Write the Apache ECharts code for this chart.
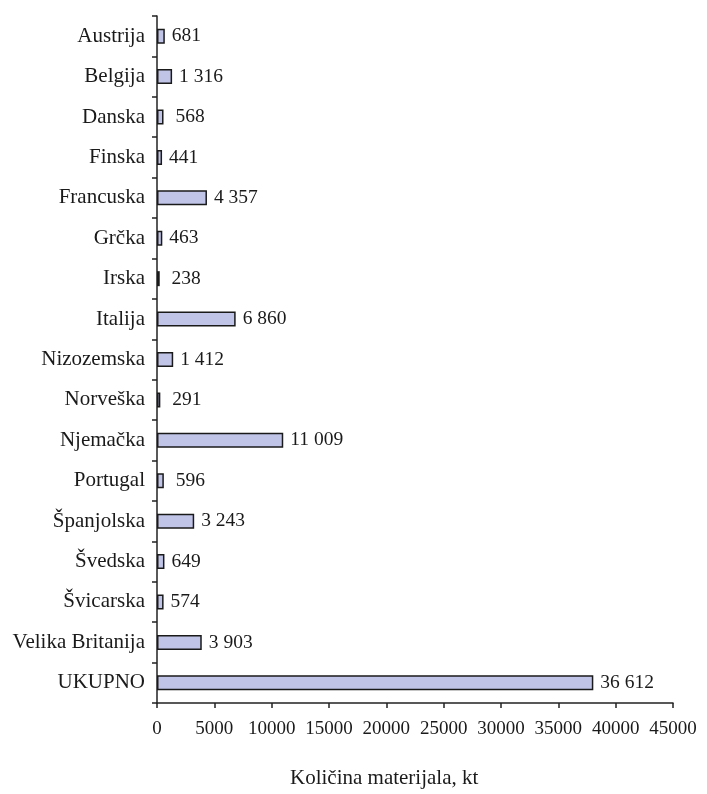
<!DOCTYPE html>
<html>
<head>
<meta charset="utf-8">
<script src="https://cdn.jsdelivr.net/npm/echarts@6/dist/echarts.min.js"></script>
<style>
html,body{margin:0;padding:0;background:#fff;}
#chart{width:707px;height:794px;}
</style>
</head>
<body>
<div id="chart"></div>
<script>
var categories = ['Austrija','Belgija','Danska','Finska','Francuska','Grčka','Irska','Italija','Nizozemska','Norveška','Njemačka','Portugal','Španjolska','Švedska','Švicarska','Velika Britanija','UKUPNO'];
var values = [681, 1316, 568, 441, 4357, 463, 238, 6860, 1412, 291, 11009, 596, 3243, 649, 574, 3903, 38050];
var valueLabels = ['681','1 316',' 568','441','4 357','463',' 238','6 860','1 412',' 291','11 009',' 596','3 243','649','574','3 903','36 612'];
var axisTitle = 'Količina materijala, kt';

var FONT = '"Liberation Serif", "DejaVu Serif", serif';
var chart = echarts.init(document.getElementById('chart'), null, {renderer:'canvas'});
chart.setOption({
  animation: false,
  backgroundColor: '#ffffff',
  grid: {left: 157, right: 34, top: 16, bottom: 91, containLabel: false},
  xAxis: {
    type: 'value', min: 0, max: 45000, interval: 5000,
    axisLine: {show: true, lineStyle: {color: '#222', width: 1.5}},
    axisTick: {show: true, length: 5, lineStyle: {color: '#222', width: 1.5}},
    splitLine: {show: false},
    axisLabel: {fontFamily: FONT, fontSize: 19, color: '#1a1a1a', margin: 17,
      formatter: function(v){ return String(v); }}
  },
  yAxis: {
    type: 'category', data: categories, inverse: true,
    axisLine: {show: true, lineStyle: {color: '#222', width: 1.5}},
    axisTick: {show: true, length: 5, alignWithLabel: false, lineStyle: {color: '#222', width: 1.5}},
    axisLabel: {fontFamily: FONT, fontSize: 21, color: '#1a1a1a', margin: 12}
  },
  graphic: [{
    type: 'text', left: 290, top: 768,
    style: {text: axisTitle, font: '21px ' + FONT, fill: '#1a1a1a', textAlign: 'left'}
  }],
  series: [{
    type: 'bar', data: values, barWidth: 15,
    itemStyle: {color: '#c0c5e8', borderColor: '#1a1a1a', borderWidth: 1.5},
    label: {show: true, position: 'right', distance: 7, fontFamily: FONT, fontSize: 19.5, color: '#1a1a1a',
      formatter: function(p){ return valueLabels[p.dataIndex]; }}
  }]
});
</script>
</body>
</html>
